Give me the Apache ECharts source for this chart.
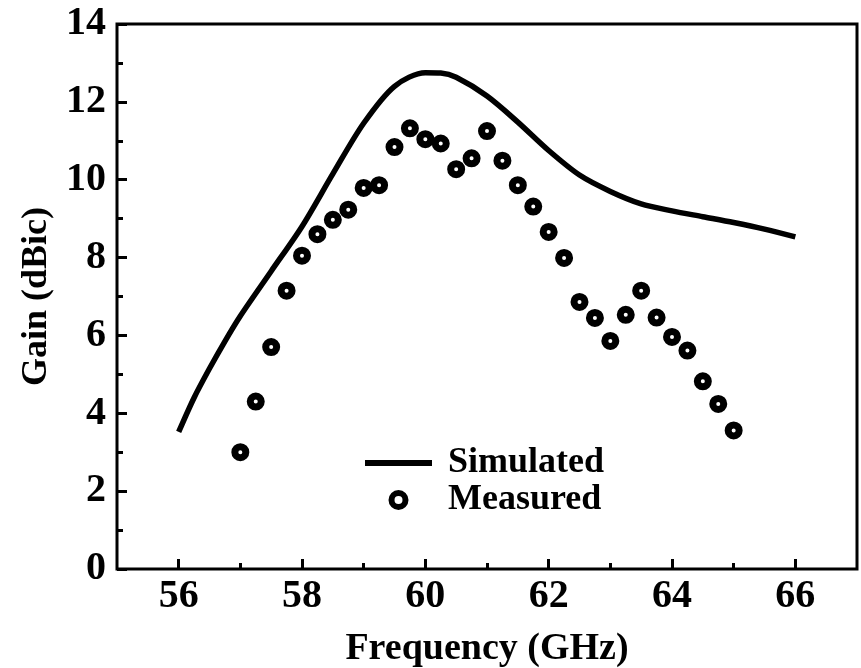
<!DOCTYPE html>
<html>
<head>
<meta charset="utf-8">
<script src="https://cdn.jsdelivr.net/npm/echarts@6/dist/echarts.min.js"></script>
<style>
  html, body { margin: 0; padding: 0; background: #fff; }
  #chart { width: 861px; height: 668px; }
</style>
</head>
<body>
<div id="chart"></div>
<script>
// ---- data ----
const simFreq = [56, 56.25, 56.5, 56.75, 57, 57.5, 58, 58.5, 59, 59.5, 60, 60.25, 60.5, 61, 61.5, 62, 62.5, 63, 63.5, 64, 64.5, 65, 65.5, 66];
const simGain = [3.52, 4.4, 5.15, 5.85, 6.5, 7.65, 8.8, 10.15, 11.45, 12.4, 12.75, 12.74, 12.63, 12.15, 11.48, 10.75, 10.12, 9.7, 9.38, 9.2, 9.05, 8.9, 8.73, 8.53];

const measFreq = [57, 57.25, 57.5, 57.75, 58, 58.25, 58.5, 58.75, 59, 59.25, 59.5, 59.75, 60, 60.25, 60.5, 60.75, 61, 61.25, 61.5, 61.75, 62, 62.25, 62.5, 62.75, 63, 63.25, 63.5, 63.75, 64, 64.25, 64.5, 64.75, 65];
const measGain = [3.0, 4.3, 5.7, 7.15, 8.05, 8.6, 8.97, 9.23, 9.79, 9.86, 10.84, 11.32, 11.04, 10.93, 10.27, 10.55, 11.25, 10.49, 9.86, 9.31, 8.66, 7.99, 6.86, 6.45, 5.86, 6.53, 7.15, 6.46, 5.96, 5.61, 4.82, 4.24, 3.56];

const xMajorTicks = [56, 58, 60, 62, 64, 66];
const xMinorTicks = [57, 59, 61, 63, 65];
const seriesNames = ['Simulated', 'Measured'];
const xTitle = 'Frequency (GHz)';
const yTitle = 'Gain (dBic)';

const FONT = '"Liberation Serif", "Times New Roman", serif';

const chart = echarts.init(document.getElementById('chart'), null, { renderer: 'canvas' });

const option = {
  backgroundColor: '#ffffff',
  animation: false,
  grid: {
    left: 117, right: 4, top: 24, bottom: 99,
    containLabel: false,
    outerBoundsMode: 'none',
    show: true, borderColor: '#000', borderWidth: 3, backgroundColor: 'transparent'
  },
  legend: {
    orient: 'vertical',
    left: 365,
    top: 445,
    padding: 0,
    itemWidth: 67,
    itemHeight: 14,
    itemGap: 1,
    data: [
      { name: seriesNames[0], icon: 'path://M0,0 L67,0 L67,6 L0,6 Z', itemStyle: { color: '#000', borderWidth: 0 } },
      { name: seriesNames[1], icon: 'circle', itemStyle: { color: '#fff', borderColor: '#000', borderWidth: 6 } }
    ],
    textStyle: {
      fontFamily: FONT, fontWeight: 'bold', fontSize: 36, color: '#000',
      padding: [0, 0, 0, 11]
    }
  },
  xAxis: [
    {
      type: 'value', min: 55, max: 67,
      name: xTitle, nameLocation: 'middle', nameGap: 61,
      nameTextStyle: { fontFamily: FONT, fontWeight: 'bold', fontSize: 38, color: '#000' },
      axisLine: { show: false },
      splitLine: { show: false },
      axisTick: { show: true, inside: true, length: 10, lineStyle: { color: '#000', width: 3 }, customValues: xMajorTicks },
      axisLabel: { show: true, margin: 8, fontFamily: FONT, fontWeight: 'bold', fontSize: 40, color: '#000', customValues: xMajorTicks }
    },
    {
      type: 'value', min: 55, max: 67, position: 'bottom', gridIndex: 0,
      axisLine: { show: false },
      splitLine: { show: false },
      axisTick: { show: true, inside: true, length: 6, lineStyle: { color: '#000', width: 3 }, customValues: xMinorTicks },
      axisLabel: { show: false }
    }
  ],
  yAxis: {
    type: 'value', min: 0, max: 14, interval: 2,
    name: yTitle, nameLocation: 'middle', nameGap: 62,
    nameTextStyle: { fontFamily: FONT, fontWeight: 'bold', fontSize: 36, color: '#000' },
    axisLine: { show: false },
    splitLine: { show: false },
    axisTick: { show: true, inside: true, length: 10, lineStyle: { color: '#000', width: 3 } },
    minorTick: { show: true, splitNumber: 2, length: 6, lineStyle: { color: '#000', width: 3 } },
    minorSplitLine: { show: false },
    axisLabel: { margin: 11, fontFamily: FONT, fontWeight: 'bold', fontSize: 40, color: '#000' }
  },
  series: [
    {
      name: seriesNames[0],
      type: 'line',
      xAxisIndex: 0,
      data: simFreq.map((f, i) => [f, simGain[i]]),
      smooth: 0.3,
      showSymbol: false,
      symbol: 'none',
      lineStyle: { color: '#000', width: 5.5 },
      itemStyle: { color: '#000' },
      z: 3
    },
    {
      name: seriesNames[1],
      type: 'scatter',
      xAxisIndex: 0,
      data: measFreq.map((f, i) => [f, measGain[i]]),
      symbol: 'circle',
      symbolSize: 11,
      itemStyle: { color: '#fff', borderColor: '#000', borderWidth: 7, opacity: 1 },
      z: 4
    }
  ]
};

chart.setOption(option);
</script>
</body>
</html>
